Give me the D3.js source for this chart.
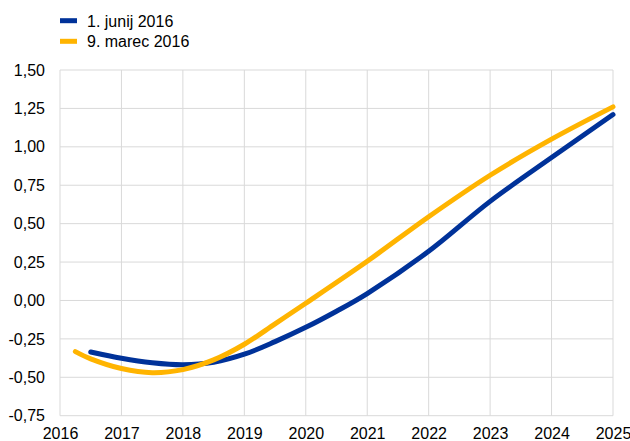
<!DOCTYPE html>
<html>
<head>
<meta charset="utf-8">
<script src="https://cdn.jsdelivr.net/npm/d3@7"></script>
<style>
  html, body { margin: 0; padding: 0; background: #fff; }
  svg { display: block; font-family: "Liberation Sans", Arial, sans-serif; }
</style>
</head>
<body>
<div id="chart"></div>
<script>
// Series data (year, value)
const seriesNames = ['1. junij 2016', '9. marec 2016'];
const seriesColors = ['#003299', '#ffb400'];

const juneYears = [2016.5, 2017, 2017.5, 2018, 2018.5, 2019, 2019.5, 2020, 2020.5, 2021, 2022, 2023, 2024, 2025];
const juneValues = [-0.335, -0.376, -0.405, -0.418, -0.402, -0.35, -0.268, -0.175, -0.07, 0.045, 0.32, 0.645, 0.93, 1.21];

const marchYears = [2016.25, 2016.5, 2017, 2017.5, 2018, 2018.5, 2019, 2019.5, 2020, 2021, 2022, 2023, 2024, 2025];
const marchValues = [-0.333, -0.38, -0.443, -0.47, -0.45, -0.387, -0.285, -0.152, -0.018, 0.255, 0.545, 0.815, 1.05, 1.26];

const xTicks = [2016, 2017, 2018, 2019, 2020, 2021, 2022, 2023, 2024, 2025];
const yTicks = [-0.75, -0.5, -0.25, 0, 0.25, 0.5, 0.75, 1, 1.25, 1.5];

const width = 630, height = 441;
const margin = { left: 60, right: 17, top: 70, bottom: 25.3 };

const svg = d3.select('#chart')
  .append('svg')
  .attr('width', width)
  .attr('height', height);

const x = d3.scaleLinear()
  .domain([2016, 2025])
  .range([margin.left, width - margin.right]);

const y = d3.scaleLinear()
  .domain([-0.75, 1.5])
  .range([height - margin.bottom, margin.top]);

const fmt = (v) => d3.format('.2f')(v).replace('−', '-').replace('.', ',');

// Gridlines
svg.append('g')
  .selectAll('line')
  .data(yTicks)
  .enter()
  .append('line')
  .attr('x1', x(2016))
  .attr('x2', x(2025))
  .attr('y1', (d) => y(d))
  .attr('y2', (d) => y(d))
  .attr('stroke', '#d9d9d9')
  .attr('stroke-width', 1);

svg.append('g')
  .selectAll('line')
  .data(xTicks)
  .enter()
  .append('line')
  .attr('x1', (d) => x(d))
  .attr('x2', (d) => x(d))
  .attr('y1', y(1.5))
  .attr('y2', y(-0.75))
  .attr('stroke', '#d9d9d9')
  .attr('stroke-width', 1);

// Y axis labels
const yAxis = d3.axisLeft(y)
  .tickValues(yTicks)
  .tickFormat(fmt)
  .tickSize(0)
  .tickPadding(15);

svg.append('g')
  .attr('transform', `translate(${margin.left},0)`)
  .call(yAxis)
  .call((g) => g.select('.domain').remove())
  .selectAll('text')
  .attr('font-size', 16)
  .attr('font-family', '"Liberation Sans", Arial, sans-serif')
  .attr('fill', '#000');

// X axis labels
const xAxis = d3.axisBottom(x)
  .tickValues(xTicks)
  .tickFormat(d3.format('d'))
  .tickSize(0)
  .tickPadding(12);

svg.append('g')
  .attr('transform', `translate(0,${y(-0.75)})`)
  .call(xAxis)
  .call((g) => g.select('.domain').remove())
  .selectAll('text')
  .attr('font-size', 16)
  .attr('font-family', '"Liberation Sans", Arial, sans-serif')
  .attr('fill', '#000');

// Lines
const line = d3.line()
  .x((d) => x(d[0]))
  .y((d) => y(d[1]))
  .curve(d3.curveCatmullRom.alpha(0.5));

const lineData = [
  d3.zip(juneYears, juneValues),
  d3.zip(marchYears, marchValues)
];

// blue first, yellow drawn on top
[0, 1].forEach((i) => {
  svg.append('path')
    .datum(lineData[i])
    .attr('d', line)
    .attr('fill', 'none')
    .attr('stroke', seriesColors[i])
    .attr('stroke-width', 5)
    .attr('stroke-linecap', 'round')
    .attr('stroke-linejoin', 'round');
});

// Legend
const legend = svg.append('g');
seriesNames.forEach((name, i) => {
  const ly = 20.7 + i * 20.6;
  legend.append('rect')
    .attr('x', 60)
    .attr('y', ly - 2.5)
    .attr('width', 17)
    .attr('height', 5)
    .attr('fill', seriesColors[i]);
  legend.append('text')
    .attr('x', 87)
    .attr('y', ly + 5.8)
    .attr('font-size', 16)
    .attr('fill', '#000')
    .text(name);
});
</script>
</body>
</html>
